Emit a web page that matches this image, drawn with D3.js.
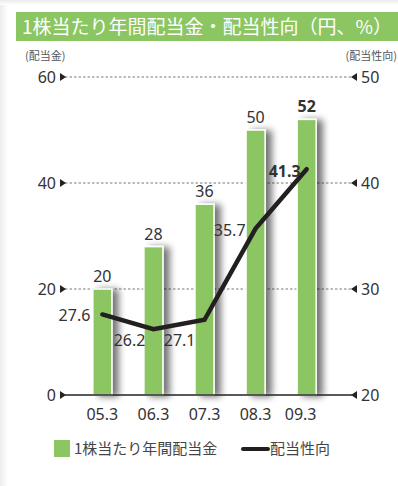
<!DOCTYPE html>
<html><head><meta charset="utf-8">
<script src="https://cdn.jsdelivr.net/npm/d3@7"></script>
<style>
html,body{margin:0;padding:0;background:#fff;}
svg{display:block;font-family:"Noto Sans CJK JP","Noto Sans",sans-serif;}
</style></head>
<body>
<svg id="c" width="398" height="486"></svg>
<script>
const categories = ["05.3","06.3","07.3","08.3","09.3"];
const dividends = [20,28,36,50,52];
const payoutRatio = [27.6,26.2,27.1,35.7,41.3];
const leftTicks = [0,20,40,60];
const rightTicks = [20,30,40,50];
const title = "1株当たり年間配当金・配当性向（円、%）";
const leftUnit = "(配当金)";
const rightUnit = "(配当性向)";
const legendBar = "1株当たり年間配当金";
const legendLine = "配当性向";

const green = "#8bc663";
const svg = d3.select("#c");
const defs = svg.append("defs");
const lg = defs.append("linearGradient").attr("id","lg").attr("x1",0).attr("x2",1);
lg.append("stop").attr("offset",0).attr("stop-color","#ececec");
lg.append("stop").attr("offset",1).attr("stop-color","#ffffff");
const tg = defs.append("linearGradient").attr("id","tg").attr("x1",0).attr("x2",0).attr("y1",0).attr("y2",1);
tg.append("stop").attr("offset",0).attr("stop-color","#ececec");
tg.append("stop").attr("offset",1).attr("stop-color","#ffffff");
const f = defs.append("filter").attr("id","sh").attr("x","-20%").attr("y","-10%").attr("width","200%").attr("height","130%");
f.append("feGaussianBlur").attr("in","SourceAlpha").attr("stdDeviation",3.5).attr("result","b");
f.append("feOffset").attr("in","b").attr("dx",6).attr("dy",1).attr("result","o");
f.append("feComponentTransfer").attr("in","o").attr("result","o2").append("feFuncA").attr("type","linear").attr("slope",0.55);
const m = f.append("feMerge"); m.append("feMergeNode").attr("in","o2"); m.append("feMergeNode").attr("in","SourceGraphic");

svg.append("rect").attr("x",0).attr("y",0).attr("width",8).attr("height",486).attr("fill","url(#lg)");
svg.append("rect").attr("x",0).attr("y",0).attr("width",398).attr("height",5).attr("fill","url(#tg)");

// title
svg.append("rect").attr("x",16).attr("y",12).attr("width",382).attr("height",29).attr("fill",green);
svg.append("text").attr("x",22).attr("y",34).attr("fill","#fff").attr("font-size",19).text(title);

svg.append("text").attr("x",25).attr("y",60).attr("font-size",11).attr("fill","#555").text(leftUnit);
svg.append("text").attr("x",397).attr("y",60).attr("font-size",11).attr("fill","#555").attr("text-anchor","end").text(rightUnit);

const x0 = 65, x1 = 352;
const yL = d3.scaleLinear().domain([0,60]).range([395,77]);
const yR = d3.scaleLinear().domain([20,50]).range([395,77]);
const x = d3.scaleBand().domain(categories).range([77,332]).paddingInner(0.627).paddingOuter(0.31);

// grid lines
leftTicks.filter(t=>t>0).forEach(t=>{
  svg.append("line").attr("x1",x0).attr("x2",x1).attr("y1",yL(t)).attr("y2",yL(t))
    .attr("stroke","#555").attr("stroke-width",0.8).attr("stroke-dasharray","2.5,2");
});
// left ticks
const gl = svg.append("g");
leftTicks.forEach(t=>{
  const y = yL(t);
  gl.append("path").attr("d",`M${x0-5},${y-4}L${x0+1},${y}L${x0-5},${y+4}Z`).attr("fill","#222");
  gl.append("text").attr("x",x0-9).attr("y",y+6).attr("text-anchor","end").attr("font-size",16).attr("fill","#333").attr("font-family","Noto Sans, sans-serif").text(t);
});
const gr = svg.append("g");
rightTicks.forEach(t=>{
  const y = yR(t);
  gr.append("path").attr("d",`M${x1+5},${y-4}L${x1-1},${y}L${x1+5},${y+4}Z`).attr("fill","#222");
  gr.append("text").attr("x",x1+9).attr("y",y+6).attr("text-anchor","start").attr("font-size",16).attr("fill","#333").attr("font-family","Noto Sans, sans-serif").text(t);
});

// bars
svg.append("g").selectAll("rect").data(categories).join("rect")
  .attr("x",d=>x(d)).attr("width",x.bandwidth())
  .attr("y",(d,i)=>yL(dividends[i])).attr("height",(d,i)=>yL(0)-yL(dividends[i]))
  .attr("fill",green).attr("stroke","#fff").attr("stroke-width",1.5).attr("filter","url(#sh)");

// baseline
svg.append("line").attr("x1",x0).attr("x2",x1).attr("y1",yL(0)).attr("y2",yL(0)).attr("stroke","#222").attr("stroke-width",1.3);

// bar labels
svg.append("g").selectAll("text").data(categories).join("text")
  .attr("x",d=>x(d)+x.bandwidth()/2).attr("y",(d,i)=>yL(dividends[i])-7)
  .attr("text-anchor","middle").attr("font-size",16).attr("fill","#333").attr("font-family","Noto Sans, sans-serif")
  .attr("font-weight",(d,i)=>i===4?"bold":"normal")
  .text((d,i)=>dividends[i]);

// x labels
svg.append("g").selectAll("text").data(categories).join("text")
  .attr("x",(d,i)=>x(d)+x.bandwidth()/2 - (i===4?6:0)).attr("y",420)
  .attr("text-anchor","middle").attr("font-size",16).attr("fill","#333").attr("font-family","Noto Sans, sans-serif")
  .text(d=>d);

// line
const cx = (d)=>x(d)+x.bandwidth()/2;
const line = d3.line().x((d,i)=>cx(categories[i])).y(d=>yR(d));
svg.append("path").datum(payoutRatio).attr("d",line).attr("fill","none").attr("stroke","#231f20").attr("stroke-width",4.5).attr("stroke-linecap","round").attr("stroke-linejoin","miter");

// line labels
const off = [[-12,7,"end"],[-8,17,"end"],[-9,26,"end"],[-10,7,"end"],[-6,8,"end"]];
svg.append("g").selectAll("text").data(payoutRatio).join("text")
  .attr("x",(d,i)=>cx(categories[i])+off[i][0]).attr("y",(d,i)=>yR(d)+off[i][1])
  .attr("text-anchor",(d,i)=>off[i][2]).attr("font-size",16).attr("fill","#333").attr("font-family","Noto Sans, sans-serif")
  .attr("font-weight",(d,i)=>i===4?"bold":"normal")
  .text(d=>d.toFixed(1));

// legend
svg.append("rect").attr("x",54).attr("y",440).attr("width",16).attr("height",17).attr("fill",green);
svg.append("text").attr("x",74).attr("y",454).attr("font-size",15).attr("fill","#444").text(legendBar);
svg.append("line").attr("x1",243).attr("x2",268).attr("y1",449).attr("y2",449).attr("stroke","#231f20").attr("stroke-width",4).attr("stroke-linecap","round");
svg.append("text").attr("x",270).attr("y",454).attr("font-size",15).attr("fill","#444").text(legendLine);
</script>
</body></html>
